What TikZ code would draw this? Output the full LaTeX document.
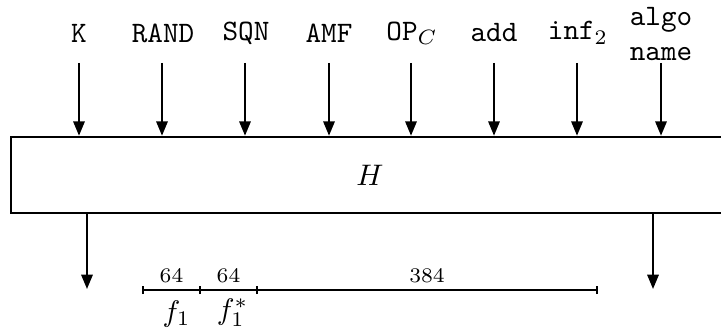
\documentclass[tikz,border=0pt]{standalone}
\usetikzlibrary{arrows.meta,calc}
\begin{document}
\begin{tikzpicture}[x=0.3367pt, y=-0.3367pt,
  arr/.style={line width=0.7pt, -{Triangle[length=4.8pt,width=3.8pt]}},
  inlabel/.style={font=\ttfamily, align=center, inner sep=0pt},
  boxst/.style={draw, line width=0.85pt, minimum width=248.5pt, minimum height=25.6pt, inner sep=0pt},
  bar/.style={line width=0.7pt},
  numlab/.style={font=\scriptsize, inner sep=1pt, anchor=south},
  flab/.style={inner sep=0pt, anchor=north}]
\clip (0,0) rectangle (721,329);
% main box
\node[boxst] (H) at (380,175) {};
\node (Ht) at (370,175) {$H$};
% input labels
\node[inlabel] (lK)    at (79,33)  {K};
\node[inlabel] (lRAND) at (163,33) {RAND};
\node[inlabel] (lSQN)  at (246,33) {SQN};
\node[inlabel] (lAMF)  at (329,33) {AMF};
\node[inlabel] (lOP)   at (412,33) {OP$_C$};
\node[inlabel] (ladd)  at (494,33) {add};
\node[inlabel] (linf)  at (578,33) {inf$_2$};
\node[inlabel] (lalgo) at (661,34) {algo\\name};
% arrow starts
\foreach \n/\x in {K/79,RAND/162,SQN/245,AMF/329,OP/411,add/494,inf/577,algo/661}{
  \coordinate (s\n) at (\x,63);
  \draw[arr] (s\n) -- (s\n |- H.north);
}
% outputs
\coordinate (o1) at (87,289);
\coordinate (o2) at (653,289);
\draw[arr] (o1 |- H.south) -- (o1);
\draw[arr] (o2 |- H.south) -- (o2);
% bit bar
\coordinate (b0) at (143,290);
\coordinate (b1) at (200,290);
\coordinate (b2) at (257,290);
\coordinate (b3) at (597,290);
\draw[bar] (b0) -- (b3);
\foreach \b in {b0,b1,b2,b3}{
  \draw[bar] ([yshift=-1.4pt]\b) -- ([yshift=1.4pt]\b);
}
\node[numlab] (n1) at ($(b0)!0.5!(b1)+(0,-4)$) {64};
\node[numlab] (n2) at ($(b1)!0.5!(b2)+(0,-4)$) {64};
\node[numlab] (n3) at ($(b2)!0.5!(b3)+(0,-4)$) {384};
\node[flab] (f1) at ($(b0)!0.5!(b1)+(5,10)$) {$f_1$};
\node[flab] (f2) at ($(b1)!0.5!(b2)+(4,8)$) {$f_1^*$};
\end{tikzpicture}
\end{document}
